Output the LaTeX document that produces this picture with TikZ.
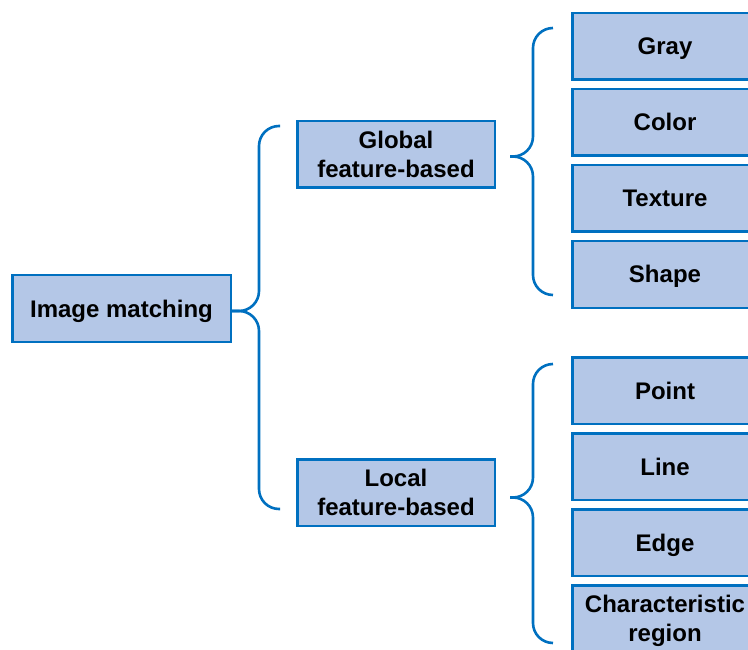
\documentclass[tikz,border=0pt]{standalone}
\usepackage{fontspec}
\setmainfont{Liberation Sans}
\usetikzlibrary{calc}
\definecolor{boxfill}{HTML}{B4C7E7}
\definecolor{boxline}{HTML}{0070C0}
\tikzset{
  box/.style={draw=boxline, fill=boxfill, line width=2.5pt, rectangle,
    inner sep=0pt, align=center, font=\fontsize{24}{29.5}\selectfont\bfseries,
    minimum height=66.5pt, text depth=0pt},
  oneline/.style={text height=17pt},
  leaf/.style={box, minimum width=185.5pt},
  mid/.style={box, minimum width=197.5pt},
  brace/.style={draw=boxline, line width=2.6pt, rounded corners=20pt}
}
\begin{document}
\begin{tikzpicture}[x=1pt,y=-1pt]
\useasboundingbox (0,0) rectangle (748,650);
\clip (0,0) rectangle (748,650);
\node[box, oneline, minimum width=218.5pt] (img) at (121.5,308.5) {Image matching};
\node[mid] (global) at (396,154.5) {Global\\feature-based};
\node[mid] (local) at (396,492.5) {Local\\feature-based};
\node[leaf, oneline] (gray) at (665,46.5) {Gray};
\node[leaf, oneline] (color) at (665,122.5) {Color};
\node[leaf, oneline] (texture) at (665,198.5) {Texture};
\node[leaf, oneline] (shape) at (665,274.5) {Shape};
\node[leaf, oneline] (point) at (665,390.5) {Point};
\node[leaf, oneline] (line) at (665,466.5) {Line};
\node[leaf, oneline] (edge) at (665,542.5) {Edge};
\node[leaf] (char) at (665,618.5) {Characteristic\\region};
% left brace
\coordinate (b0tip) at ($(img.east)+(0,2.5)$);
\coordinate (b0top) at ($(global.west)+(-16,-28.5)$);
\coordinate (b0bot) at ($(local.west)+(-16,16.5)$);
\draw[brace] (b0top) -- (259,126) -- (259,311) -- (b0tip);
\draw[brace] (b0tip) -- (259,311) -- (259,509) -- (b0bot);
% upper right brace
\coordinate (b1tip) at ($(global.east)+(14,2)$);
\draw[brace] ($(gray.west)+(-18,-18.5)$) -- (533,28) -- (533,156.5) -- (b1tip);
\draw[brace] (b1tip) -- (533,156.5) -- (533,295) -- ($(shape.west)+(-18,20.5)$);
% lower right brace
\coordinate (b2tip) at ($(local.east)+(14,5)$);
\draw[brace] ($(point.west)+(-18,-26.5)$) -- (533,364) -- (533,497.5) -- (b2tip);
\draw[brace] (b2tip) -- (533,497.5) -- (533,643) -- ($(char.west)+(-18,24.5)$);
\end{tikzpicture}
\end{document}
